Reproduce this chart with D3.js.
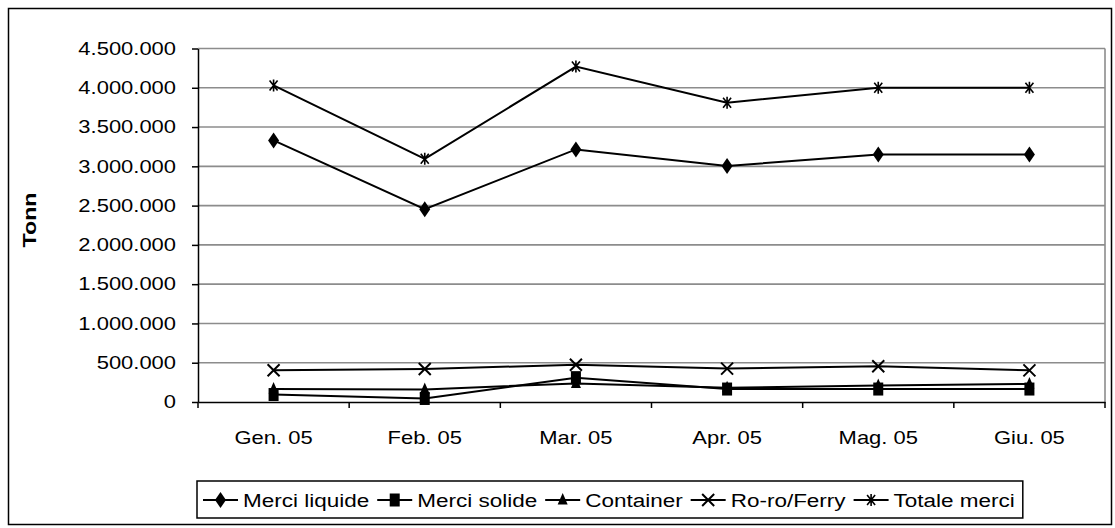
<!DOCTYPE html>
<html>
<head>
<meta charset="utf-8">
<script src="https://cdn.jsdelivr.net/npm/d3@7"></script>
<style>
  body { margin: 0; background: #fff; }
  text { font-family: "Liberation Sans", Arial, sans-serif; fill: #000; }
</style>
</head>
<body>
<svg id="chart" width="1115" height="528"></svg>
<script>
var months = ["Gen. 05", "Feb. 05", "Mar. 05", "Apr. 05", "Mag. 05", "Giu. 05"];

var merciLiquide = [3330000, 2455000, 3215000, 3005000, 3150000, 3150000];
var merciSolide  = [95000, 45000, 310000, 165000, 165000, 165000];
var container    = [165000, 160000, 237000, 182000, 210000, 230000];
var roroFerry    = [405000, 420000, 475000, 425000, 455000, 403000];
var totaleMerci  = [4030000, 3095000, 4270000, 3810000, 4000000, 4000000];

var seriesNames = ["Merci liquide", "Merci solide", "Container", "Ro-ro/Ferry", "Totale merci"];
var seriesShapes = ["diamond", "square", "triangle", "cross", "star"];
var yTicks = [0, 500000, 1000000, 1500000, 2000000, 2500000, 3000000, 3500000, 4000000, 4500000];

var series = [merciLiquide, merciSolide, container, roroFerry, totaleMerci].map(function(v, i) {
  return { name: seriesNames[i], shape: seriesShapes[i], values: v };
});

var k = 1.22,   // horizontal stretch of the axis text, like the original
    kLeg = 1.25;
var plotL = 198, plotR = 1105, plotT = 48.5, plotB = 402;

var svg = d3.select("#chart");

var it = d3.formatLocale({ decimal: ",", thousands: ".", grouping: [3], currency: ["", "€"] });
var fmt = it.format(",d");

var x = d3.scaleBand().domain(months).range([plotL, plotR]);
var y = d3.scaleLinear().domain([0, 4500000]).range([plotB, plotT]);

// outer frame
svg.append("rect")
    .attr("x", 8.5).attr("y", 8.5)
    .attr("width", 1103).attr("height", 516)
    .attr("fill", "#fff").attr("stroke", "#000").attr("stroke-width", 1.5);

// gridlines
svg.append("g").selectAll("line")
    .data(yTicks.slice(1))
  .enter().append("line")
    .attr("x1", plotL).attr("x2", plotR)
    .attr("y1", d => y(d)).attr("y2", d => y(d))
    .attr("stroke", "#8c8c8c").attr("stroke-width", 1.6);

svg.append("line")
    .attr("x1", plotR).attr("x2", plotR)
    .attr("y1", plotT).attr("y2", plotB)
    .attr("stroke", "#8c8c8c").attr("stroke-width", 1.6);

// y axis
var yAxis = svg.append("g")
    .attr("transform", "translate(" + plotL + ",0)")
    .call(d3.axisLeft(y).tickValues(yTicks).tickFormat(fmt).tickSize(6).tickSizeOuter(0));
yAxis.select(".domain").attr("stroke", "#000").attr("stroke-width", 1.5);
yAxis.selectAll(".tick line").attr("stroke", "#000").attr("stroke-width", 1.5);
yAxis.selectAll(".tick text")
    .style("font-size", "18px")
    .attr("fill", "#000")
    .attr("x", -22 / k)
    .attr("transform", "scale(" + k + ",1)");

// x axis, ticks sit between the categories
var xAxis = svg.append("g")
    .attr("transform", "translate(0," + plotB + ")")
    .call(d3.axisBottom(x).tickSize(0).tickSizeOuter(0).tickPadding(29));
xAxis.select(".domain").attr("stroke", "#000").attr("stroke-width", 1.5);
xAxis.selectAll(".tick text")
    .style("font-size", "18px")
    .attr("fill", "#000")
    .attr("transform", "scale(" + k + ",1)");
xAxis.selectAll(".sep")
    .data(d3.range(months.length + 1))
  .enter().append("line")
    .attr("class", "sep")
    .attr("x1", i => plotL + i * x.step()).attr("x2", i => plotL + i * x.step())
    .attr("y1", 0).attr("y2", 6)
    .attr("stroke", "#000").attr("stroke-width", 1.5);

// y title
svg.append("text")
    .attr("transform", "translate(36,220) rotate(-90) scale(" + k + ",1)")
    .attr("text-anchor", "middle")
    .style("font-size", "19px")
    .style("font-weight", "bold")
    .text("Tonn");

function marker(g, shape) {
  if (shape === "diamond") {
    g.append("path").attr("d", "M0,-8L5.5,0L0,8L-5.5,0Z").attr("fill", "#000");
  } else if (shape === "square") {
    g.append("rect").attr("x", -5).attr("y", -6.5).attr("width", 10).attr("height", 13).attr("fill", "#000");
  } else if (shape === "triangle") {
    g.append("path").attr("d", "M0,-7L5,4.5L-5,4.5Z").attr("fill", "#000");
  } else if (shape === "cross") {
    g.append("path").attr("d", "M-6,-6L6,6M6,-6L-6,6").attr("stroke", "#000").attr("stroke-width", 2);
  } else if (shape === "star") {
    g.append("path").attr("d", "M-4,-5L4,5M4,-5L-4,5M0,-6L0,6").attr("stroke", "#000").attr("stroke-width", 1.6);
  }
}

var line = d3.line()
    .x((d, i) => x(months[i]) + x.bandwidth() / 2)
    .y(d => y(d));

var sg = svg.append("g").selectAll("g")
    .data(series)
  .enter().append("g");

sg.append("path")
    .attr("d", d => line(d.values))
    .attr("fill", "none")
    .attr("stroke", "#000")
    .attr("stroke-width", 2);

sg.each(function(s) {
  d3.select(this).selectAll(".pt")
      .data(s.values)
    .enter().append("g")
      .attr("class", "pt")
      .attr("transform", (d, i) => "translate(" + (x(months[i]) + x.bandwidth() / 2) + "," + y(d) + ")")
      .each(function() { marker(d3.select(this), s.shape); });
});

// legend
var legend = svg.append("g");
var legendBox = legend.append("rect")
    .attr("y", 481).attr("height", 37)
    .attr("fill", "#fff").attr("stroke", "#000").attr("stroke-width", 1.5);

var lx = 203, ly = 500;
series.forEach(function(s) {
  legend.append("line")
      .attr("x1", lx).attr("x2", lx + 35)
      .attr("y1", ly).attr("y2", ly)
      .attr("stroke", "#000").attr("stroke-width", 2);
  marker(legend.append("g").attr("transform", "translate(" + (lx + 17.5) + "," + ly + ")"), s.shape);
  var t = legend.append("text")
      .attr("transform", "translate(" + (lx + 40) + "," + (ly + 6.5) + ") scale(" + kLeg + ",1)")
      .style("font-size", "18px")
      .text(s.name);
  lx += 40 + t.node().getComputedTextLength() * kLeg + 8;
});
legendBox.attr("x", 197).attr("width", lx - 197);
</script>
</body>
</html>
